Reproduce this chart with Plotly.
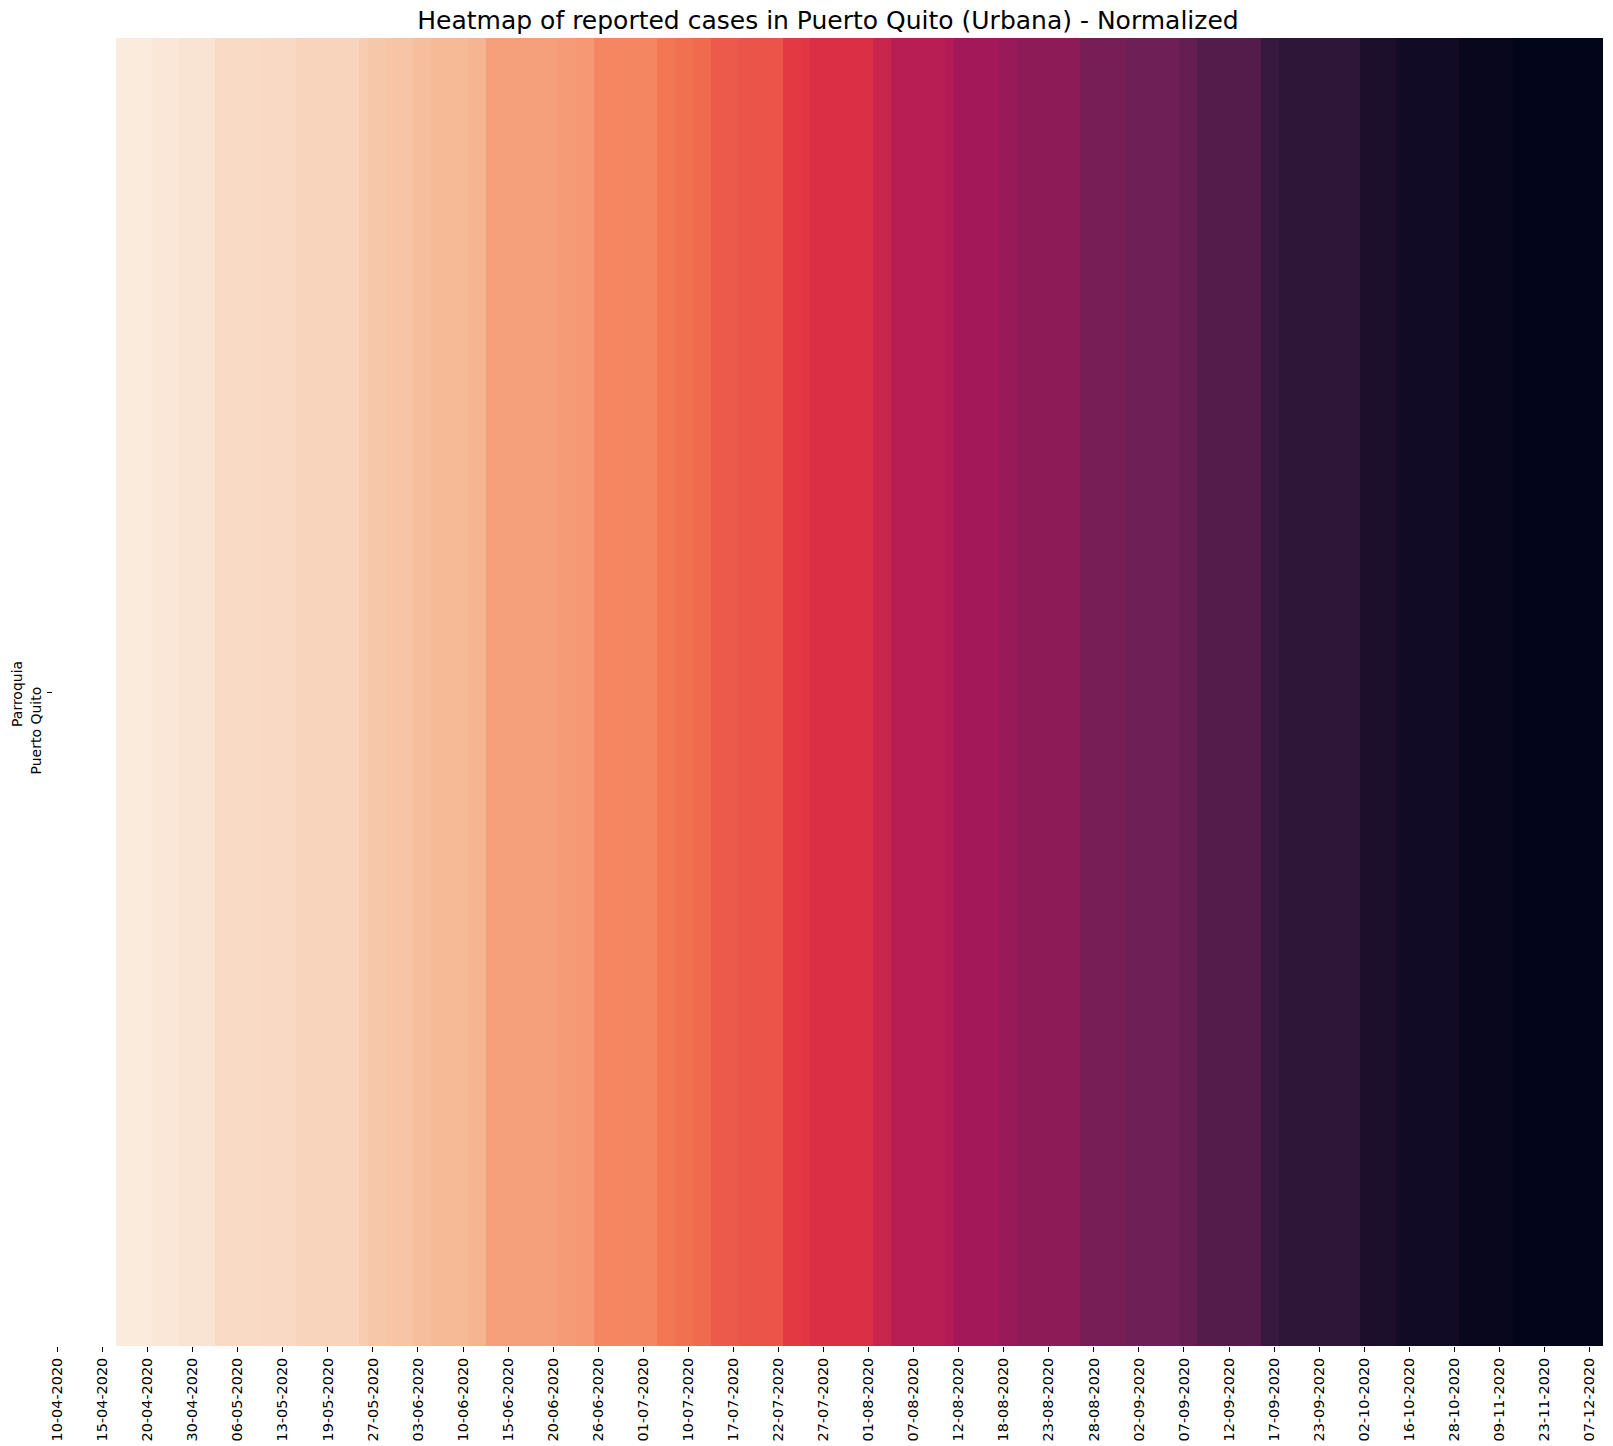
import plotly.graph_objects as go

# ---- data ----
tick_labels = ["10-04-2020", "15-04-2020", "20-04-2020", "30-04-2020", "06-05-2020",
               "13-05-2020", "19-05-2020", "27-05-2020", "03-06-2020", "10-06-2020",
               "15-06-2020", "20-06-2020", "26-06-2020", "01-07-2020", "10-07-2020",
               "17-07-2020", "22-07-2020", "27-07-2020", "01-08-2020", "07-08-2020",
               "12-08-2020", "18-08-2020", "23-08-2020", "28-08-2020", "02-09-2020",
               "07-09-2020", "12-09-2020", "17-09-2020", "23-09-2020", "02-10-2020",
               "16-10-2020", "28-10-2020", "09-11-2020", "23-11-2020", "07-12-2020"]
tick_step = 5          # one label every 5 reporting dates
n_dates = 172
row_label = "Puerto Quito"

# normalized cumulative cases, stored as runs of equal value (None = no data)
run_values = [None, 0.0, 0.011, 0.020, 0.044, 0.048, 0.060, 0.080, 0.093, 0.100,
              0.117, 0.128, 0.139, 0.189, 0.198, 0.207, 0.246, 0.284, 0.299, 0.311,
              0.345, 0.358, 0.416, 0.420, 0.448, 0.497, 0.541, 0.555, 0.597, 0.618,
              0.649, 0.698, 0.722, 0.743, 0.785, 0.852, 0.877, 0.931, 0.957, 0.983, 1.0]
run_lengths = [7, 4, 3, 4, 5, 4, 7, 1, 2, 3,
               2, 4, 2, 8, 2, 2, 7, 2, 2, 2,
               3, 5, 2, 1, 7, 2, 6, 1, 5, 2,
               7, 5, 6, 2, 7, 2, 9, 4, 7, 6, 10]

values = []
for v, n in zip(run_values, run_lengths):
    values.extend([v] * n)

rocket_r = [[0.0, "#faebdd"], [1/7, "#f6b48f"], [2/7, "#f37651"], [3/7, "#e13342"],
            [4/7, "#ad1759"], [5/7, "#701f57"], [6/7, "#35193e"], [1.0, "#03051a"]]

W, H = 1613, 1446
ml, mr, mt, mb = 53, 10, 38, 100

fig = go.Figure(go.Heatmap(
    z=[values], x=list(range(n_dates)), y=[row_label],
    colorscale=rocket_r, zmin=0, zmax=1, showscale=False, hoverongaps=False))

def px_x(p):
    return (p - ml) / (W - ml - mr)

def px_y(p):
    return (H - mb - p) / (H - mt - mb)

fig.update_layout(
    width=W, height=H,
    margin=dict(l=ml, r=mr, t=mt, b=mb, pad=0, autoexpand=False),
    paper_bgcolor="white", plot_bgcolor="white",
    font=dict(family="DejaVu Sans", color="black"),
    title=dict(text="Heatmap of reported cases in Puerto Quito (Urbana) - Normalized",
               x=0.5, xref="paper", xanchor="center",
               y=1 - 20 / H, yref="container", yanchor="middle",
               font=dict(size=25, color="black", family="DejaVu Sans")),
    xaxis=dict(range=[-0.5, n_dates - 0.5], tickmode="array",
               tickvals=[i * tick_step for i in range(len(tick_labels))],
               ticktext=tick_labels, tickangle=-90, automargin=False,
               ticks="outside", ticklen=5, tickwidth=1, tickcolor="black",
               showgrid=False, zeroline=False, showline=False,
               tickfont=dict(size=14.4, color="black", family="DejaVu Sans")),
    yaxis=dict(showticklabels=False, ticks="outside", ticklen=5, tickwidth=1,
               automargin=False,
               tickcolor="black", showgrid=False, zeroline=False, showline=False),
    annotations=[
        dict(text=row_label, textangle=-90, xref="paper", yref="paper",
             x=px_x(35.5), y=px_y(731), xanchor="center", yanchor="middle",
             showarrow=False, font=dict(size=14, color="black", family="DejaVu Sans")),
        dict(text="Parroquia", textangle=-90, xref="paper", yref="paper",
             x=px_x(17), y=px_y(694), xanchor="center", yanchor="middle",
             showarrow=False, font=dict(size=14, color="black", family="DejaVu Sans")),
    ],
)

fig.write_html("out.html")
